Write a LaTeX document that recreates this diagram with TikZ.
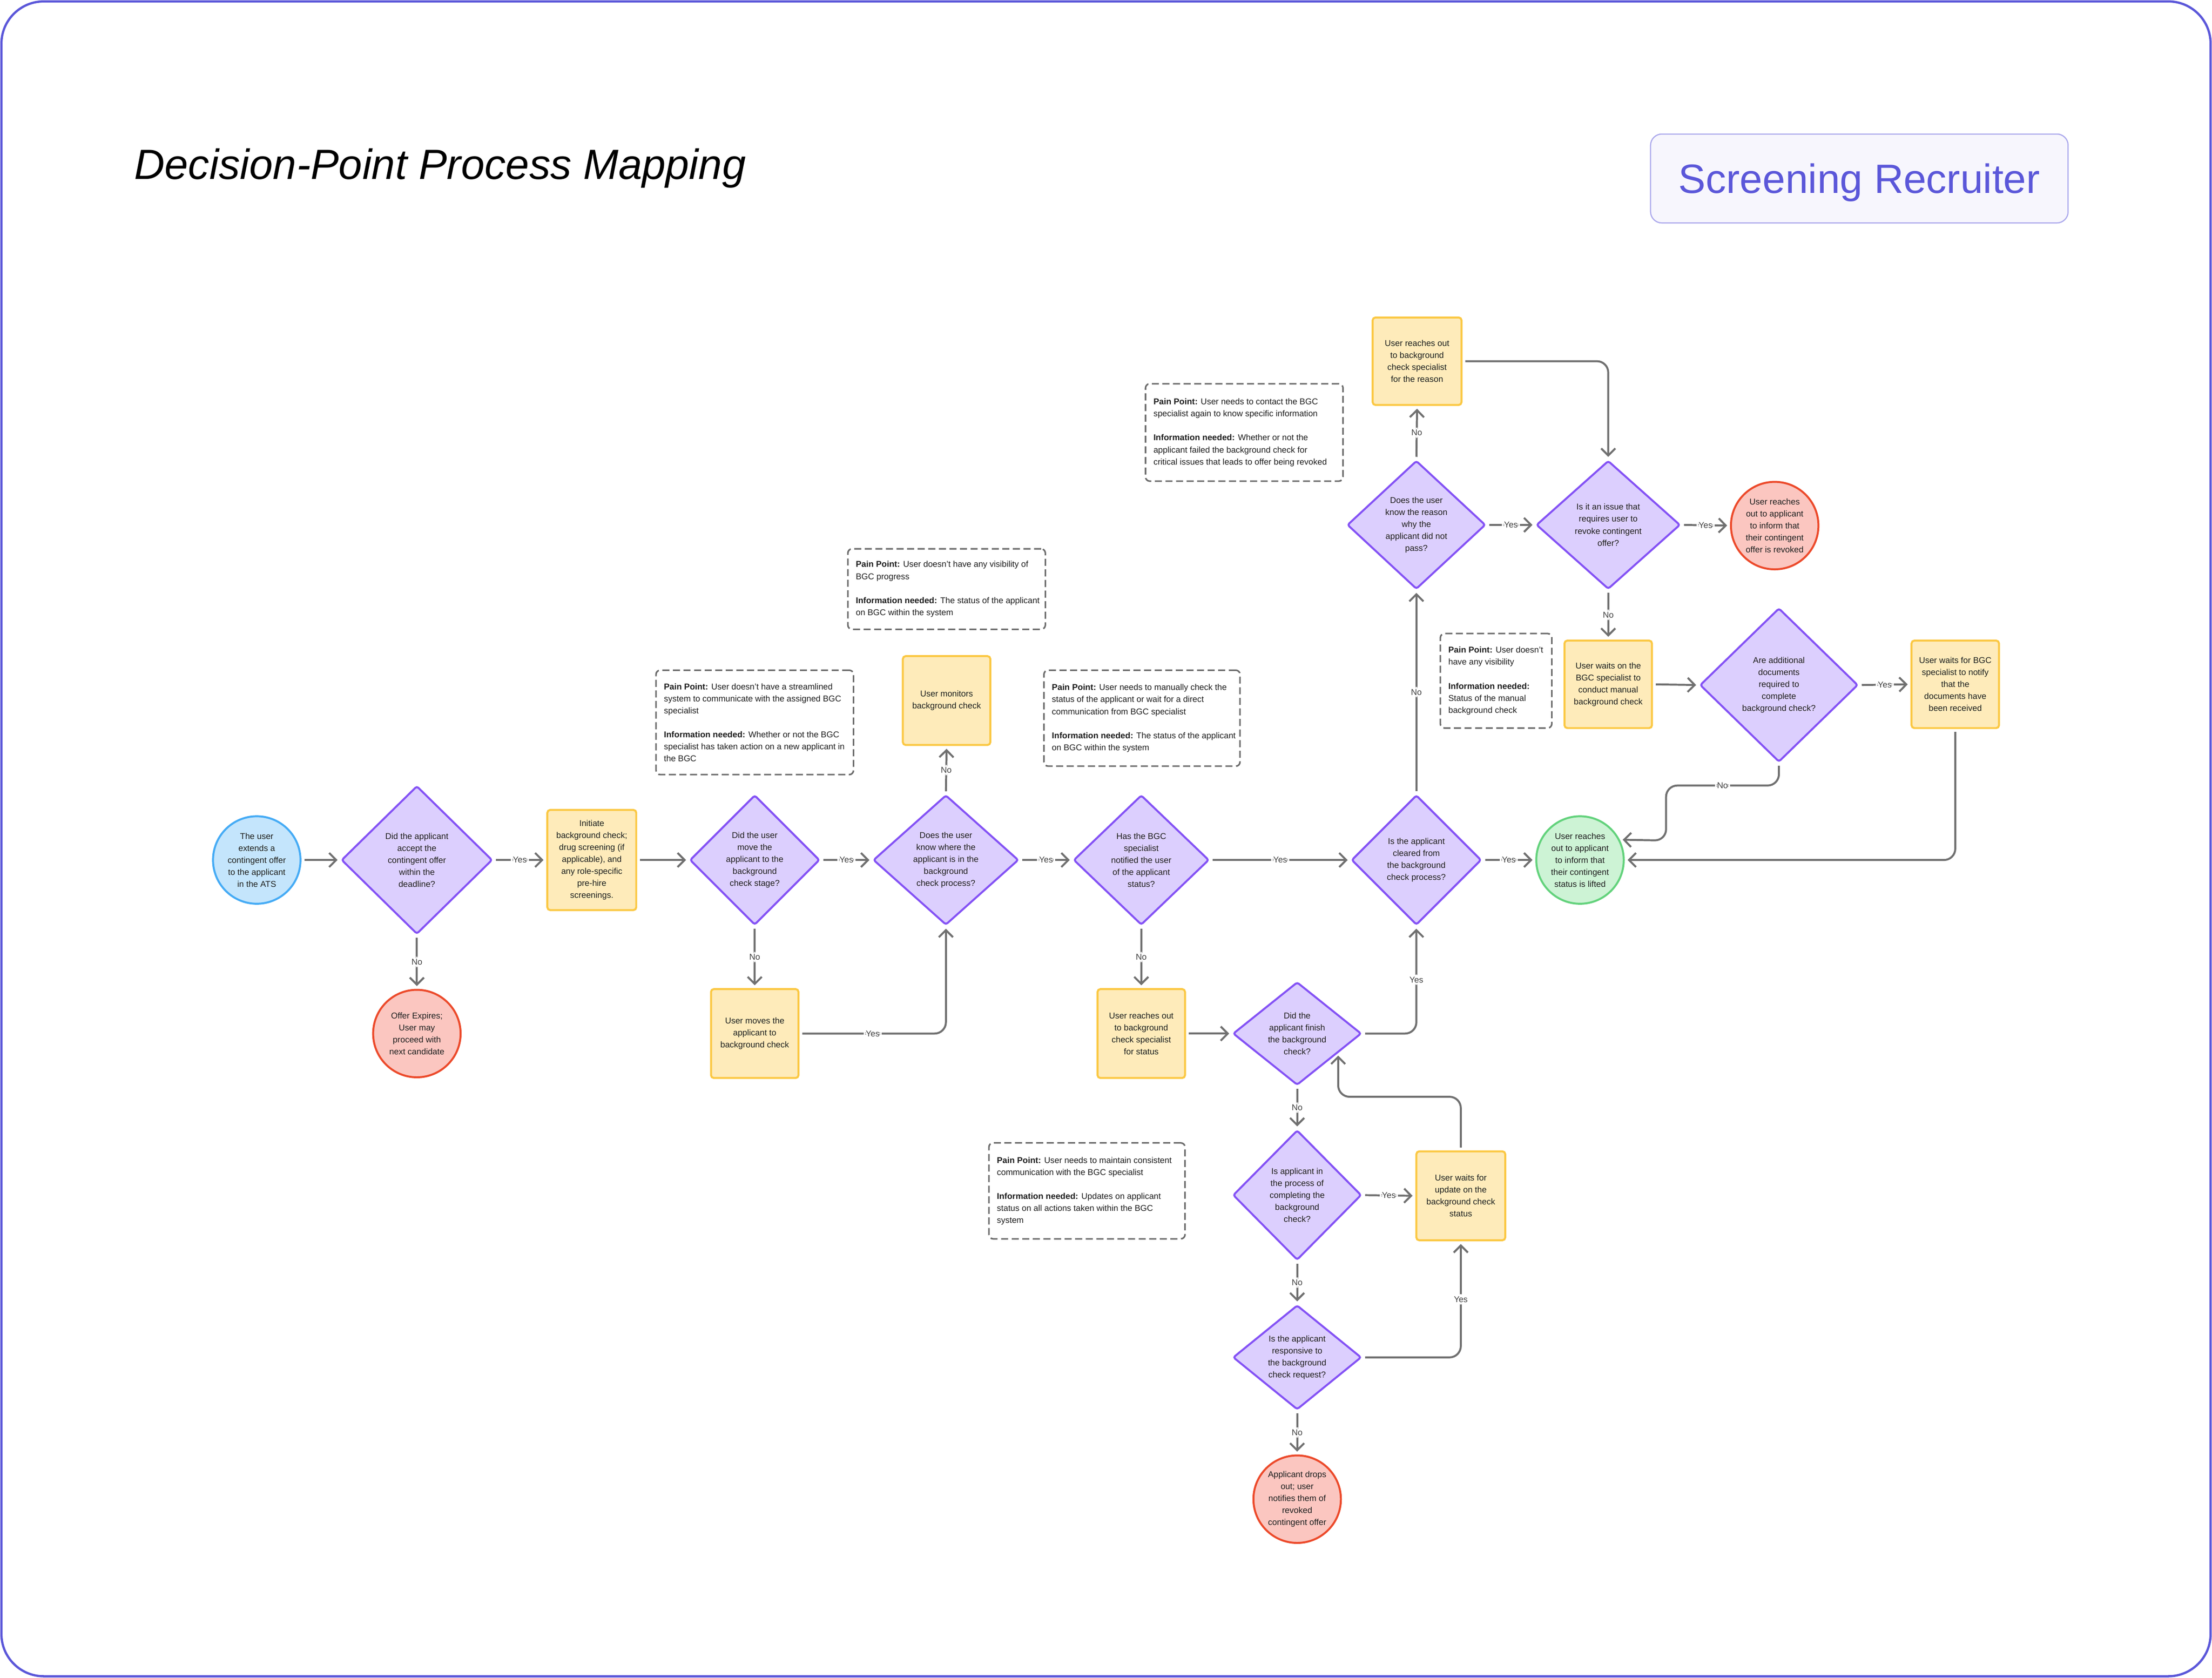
\documentclass[tikz,border=0pt]{standalone}
\usepackage{fontspec}
\setmainfont{Liberation Sans}
\usetikzlibrary{shapes.geometric,arrows.meta,calc}
\definecolor{framecol}{HTML}{5B57D9}
\definecolor{purpfill}{HTML}{DCCFFE}
\definecolor{purpline}{HTML}{8452F5}
\definecolor{yelfill}{HTML}{FEEBBA}
\definecolor{yelline}{HTML}{FBC843}
\definecolor{redfill}{HTML}{FBC6C0}
\definecolor{redline}{HTML}{EC4A2B}
\definecolor{grnfill}{HTML}{CDF3D5}
\definecolor{grnline}{HTML}{63D27C}
\definecolor{blufill}{HTML}{C4E5FC}
\definecolor{bluline}{HTML}{45ABF5}
\definecolor{conncol}{HTML}{707070}
\definecolor{notecol}{HTML}{6B6B6B}
\definecolor{txtcol}{HTML}{1E1E1E}
\definecolor{badgefill}{HTML}{F7F6FD}
\definecolor{badgeline}{HTML}{ABA8EC}
\tikzset{
  ntxt/.style={font=\fontsize{6}{8.5}\selectfont, text=txtcol, align=center, inner sep=0pt},
  dec/.style={diamond, draw=purpline, fill=purpfill, line width=1.4pt, rounded corners=1.5pt, inner sep=0pt},
  act/.style={rectangle, draw=yelline, fill=yelfill, line width=1.4pt, rounded corners=2pt, inner sep=0pt},
  term/.style={circle, line width=1.4pt, minimum size=62pt, inner sep=0pt},
  note/.style={rectangle, draw=notecol, dash pattern=on 5pt off 2.5pt, line width=1.1pt, rounded corners=3pt, fill=white, inner sep=0pt},
  ntext/.style={font=\fontsize{6}{8.5}\selectfont, text=txtcol, align=left, inner sep=0pt, anchor=west, xshift=6pt},
  conn/.style={draw=conncol, line width=1.4pt, rounded corners=8pt, -{Straight Barb[length=5pt,width=10pt]}, shorten >=2pt, shorten <=2pt},
  elab/.style={fill=white, font=\fontsize{6}{8}\selectfont, text=txtcol!85, inner sep=1.5pt},
}
\begin{document}
\begin{tikzpicture}[x=1pt,y=-1pt]
\fill[white] (0,0) rectangle (1568,1189);
\useasboundingbox (0,0) rectangle (1568,1189);
\draw[framecol, line width=1.6pt, rounded corners=30pt] (1,1) rectangle (1567,1188);

% title and badge
\node[anchor=base west, font=\fontsize{30}{36}\selectfont\itshape, text=black, inner sep=0pt] (title) at (95,127) {Decision-Point Process Mapping};
\node[draw=badgeline, fill=badgefill, rounded corners=8pt, minimum width=296pt, minimum height=63pt, line width=0.8pt, inner sep=0pt,
  label={[font=\fontsize{29}{34}\selectfont, text=framecol, inner sep=0pt, yshift=-3pt]center:{Screening Recruiter}}] (badge) at (1318,126.5) {};

% terminals
\node[term, draw=bluline, fill=blufill, label={[ntxt]center:{The user\\extends a\\contingent offer\\to the applicant\\in the ATS}}] (start) at (182,609.5) {};
\node[term, draw=redline, fill=redfill, label={[ntxt]center:{Offer Expires;\\User may\\proceed with\\next candidate}}] (offer) at (295.5,732.5) {};
\node[term, draw=redline, fill=redfill, label={[ntxt]center:{Applicant drops\\out; user\\notifies them of\\revoked\\contingent offer}}] (drop) at (919.5,1062.5) {};
\node[term, draw=grnline, fill=grnfill, label={[ntxt]center:{User reaches\\out to applicant\\to inform that\\their contingent\\status is lifted}}] (green) at (1120,609.5) {};
\node[term, draw=redline, fill=redfill, label={[ntxt]center:{User reaches\\out to applicant\\to inform that\\their contingent\\offer is revoked}}] (revoked) at (1258,372.5) {};

% decisions
\node[dec, minimum width=107pt, minimum height=105pt, label={[ntxt]center:{Did the applicant\\accept the\\contingent offer\\within the\\deadline?}}] (d1) at (295.5,609.5) {};
\node[dec, minimum width=92pt, minimum height=92pt, label={[ntxt]center:{Did the user\\move the\\applicant to the\\background\\check stage?}}] (d2) at (535,609.5) {};
\node[dec, minimum width=103pt, minimum height=92pt, label={[ntxt]center:{Does the user\\know where the\\applicant is in the\\background\\check process?}}] (d3) at (670.5,609.5) {};
\node[dec, minimum width=96pt, minimum height=92pt, label={[ntxt]center:{Has the BGC\\specialist\\notified the user\\of the applicant\\status?}}] (d4) at (809,609.5) {};
\node[dec, minimum width=91pt, minimum height=73pt, label={[ntxt]center:{Did the\\applicant finish\\the background\\check?}}] (d5) at (919.5,732.5) {};
\node[dec, minimum width=91pt, minimum height=92pt, label={[ntxt]center:{Is applicant in\\the process of\\completing the\\background\\check?}}] (d6) at (919.5,847) {};
\node[dec, minimum width=91pt, minimum height=74pt, label={[ntxt]center:{Is the applicant\\responsive to\\the background\\check request?}}] (d7) at (919.5,962) {};
\node[dec, minimum width=92pt, minimum height=92pt, label={[ntxt]center:{Is the applicant\\cleared from\\the background\\check process?}}] (d8) at (1004,609.5) {};
\node[dec, minimum width=98pt, minimum height=91pt, label={[ntxt]center:{Does the user\\know the reason\\why the\\applicant did not\\pass?}}] (d9) at (1004,372) {};
\node[dec, minimum width=102pt, minimum height=91pt, label={[ntxt]center:{Is it an issue that\\requires user to\\revoke contingent\\offer?}}] (d10) at (1140,372) {};
\node[dec, minimum width=112pt, minimum height=109pt, label={[ntxt]center:{Are additional\\documents\\required to\\complete\\background check?}}] (d11) at (1261,485.5) {};

% actions
\node[act, minimum width=63pt, minimum height=71pt, label={[ntxt]center:{Initiate\\background check;\\drug screening (if\\applicable), and\\any role-specific\\pre-hire\\screenings.}}] (init) at (419.5,609.5) {};
\node[act, minimum width=62pt, minimum height=63pt, label={[ntxt]center:{User moves the\\applicant to\\background check}}] (moves) at (535,732.5) {};
\node[act, minimum width=62pt, minimum height=63pt, label={[ntxt]center:{User monitors\\background check}}] (monitor) at (671,496.5) {};
\node[act, minimum width=62pt, minimum height=63pt, label={[ntxt]center:{User reaches out\\to background\\check specialist\\for status}}] (status) at (809,732.5) {};
\node[act, minimum width=63pt, minimum height=63pt, label={[ntxt]center:{User waits for\\update on the\\background check\\status}}] (upd) at (1035.5,847.5) {};
\node[act, minimum width=63pt, minimum height=62pt, label={[ntxt]center:{User reaches out\\to background\\check specialist\\for the reason}}] (reason) at (1004.5,256) {};
\node[act, minimum width=62pt, minimum height=62pt, label={[ntxt]center:{User waits on the\\BGC specialist to\\conduct manual\\background check}}] (manual) at (1140,485) {};
\node[act, minimum width=62pt, minimum height=62pt, label={[ntxt]center:{User waits for BGC\\specialist to notify\\that the\\documents have\\been received}}] (notify) at (1386,485) {};

% notes
\node[note, minimum width=140pt, minimum height=74pt, label={[ntext]west:{\textbf{Pain Point:} User doesn’t have a streamlined\\system to communicate with the assigned BGC\\specialist\\[8.5pt]\textbf{Information needed:} Whether or not the BGC\\specialist has taken action on a new applicant in\\the BGC}}] (n1) at (535,512) {};
\node[note, minimum width=140pt, minimum height=57pt, label={[ntext]west:{\textbf{Pain Point:} User doesn’t have any visibility of\\BGC progress\\[8.5pt]\textbf{Information needed:} The status of the applicant\\on BGC within the system}}] (n2) at (671,417.5) {};
\node[note, minimum width=139pt, minimum height=68pt, label={[ntext]west:{\textbf{Pain Point:} User needs to manually check the\\status of the applicant or wait for a direct\\communication from BGC specialist\\[8.5pt]\textbf{Information needed:} The status of the applicant\\on BGC within the system}}] (n3) at (809.5,509) {};
\node[note, minimum width=139pt, minimum height=68pt, label={[ntext]west:{\textbf{Pain Point:} User needs to maintain consistent\\communication with the BGC specialist\\[8.5pt]\textbf{Information needed:} Updates on applicant\\status on all actions taken within the BGC\\system}}] (n4) at (770.5,844) {};
\node[note, minimum width=140pt, minimum height=69pt, label={[ntext]west:{\textbf{Pain Point:} User needs to contact the BGC\\specialist again to know specific information\\[8.5pt]\textbf{Information needed:} Whether or not the\\applicant failed the background check for\\critical issues that leads to offer being revoked}}] (n5) at (882,306.5) {};
\node[note, minimum width=79pt, minimum height=67pt, label={[ntext]west:{\textbf{Pain Point:} User doesn’t\\have any visibility\\[8.5pt]\textbf{Information needed:}\\Status of the manual\\background check}}] (n6) at (1060.5,482.5) {};

% connectors
\draw[conn] (start) -- (d1);
\draw[conn] (d1.east) -- node[elab]{Yes} (init.west);
\draw[conn] (d1.south) -- node[elab]{No} (offer.north);
\draw[conn] (init.east) -- (d2.west);
\draw[conn] (d2.east) -- node[elab]{Yes} (d3.west);
\draw[conn] (d2.south) -- node[elab]{No} (moves.north);
\draw[conn] (moves.east) -| node[elab,pos=0.25]{Yes} (d3.south);
\draw[conn] (d3.north) -- node[elab]{No} (monitor.south);
\draw[conn] (d3.east) -- node[elab]{Yes} (d4.west);
\draw[conn] (d4.east) -- node[elab]{Yes} (d8.west);
\draw[conn] (d4.south) -- node[elab]{No} (status.north);
\draw[conn] (status.east) -- (d5.west);
\draw[conn] (d5.east) -| node[elab,pos=0.75]{Yes} (d8.south);
\draw[conn] (d5.south) -- node[elab]{No} (d6.north);
\draw[conn] (d6.east) -- node[elab]{Yes} (upd.west);
\draw[conn] (d6.south) -- node[elab]{No} (d7.north);
\draw[conn] (d7.east) -| node[elab,pos=0.75]{Yes} (upd.south);
\draw[conn] (upd.north) -- ++(0,-38) -| ([shift={(6pt,5pt)}]d5.south east);
\draw[conn] (d7.south) -- node[elab]{No} (drop.north);
\draw[conn] (d8.east) -- node[elab]{Yes} (green.west);
\draw[conn] (d8.north) -- node[elab]{No} (d9.south);
\draw[conn] (d9.north) -- node[elab]{No} (reason.south);
\draw[conn] (d9.east) -- node[elab]{Yes} (d10.west);
\draw[conn] (reason.east) -| (d10.north);
\draw[conn] (d10.east) -- node[elab]{Yes} (revoked.west);
\draw[conn] (d10.south) -- node[elab]{No} (manual.north);
\draw[conn] (manual.east) -- (d11.west);
\draw[conn] (d11.east) -- node[elab]{Yes} (notify.west);
\draw[conn] (d11.south) -- ++(0,16) -| node[elab,pos=0.25]{No} ++(-80,39) -- (green.27);
\draw[conn] (notify.south) |- (green.east);
\end{tikzpicture}
\end{document}
